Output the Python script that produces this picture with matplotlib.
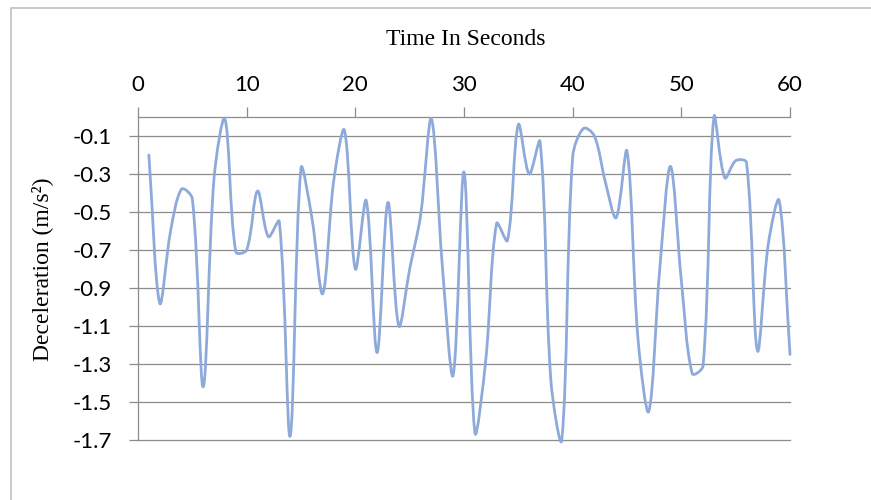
import matplotlib
matplotlib.use("Agg")
import matplotlib.pyplot as plt
from matplotlib.path import Path
from matplotlib.patches import PathPatch, Rectangle
import numpy as np

# ---- data ----
time_s = list(range(1, 61))
decel = [-0.20, -0.98, -0.60, -0.38, -0.43, -1.42, -0.32, -0.01, -0.71, -0.70,
         -0.39, -0.63, -0.55, -1.68, -0.27, -0.53, -0.93, -0.34, -0.07, -0.80,
         -0.44, -1.24, -0.45, -1.10, -0.80, -0.52, -0.01, -0.78, -1.36, -0.29,
         -1.66, -1.28, -0.56, -0.65, -0.04, -0.30, -0.13, -1.39, -1.70, -0.21,
         -0.06, -0.10, -0.34, -0.53, -0.18, -1.16, -1.55, -0.81, -0.26, -0.86,
         -1.35, -1.31, 0.00, -0.32, -0.23, -0.24, -1.23, -0.67, -0.44, -1.25]
x_ticks = [0, 10, 20, 30, 40, 50, 60]
y_ticks = [-1.7, -1.5, -1.3, -1.1, -0.9, -0.7, -0.5, -0.3, -0.1]
title_text = "Time In Seconds"
ylabel_text = "Deceleration (m/s²)"

W, H = 871, 500
fig = plt.figure(figsize=(W / 100, H / 100), dpi=100)
ax = fig.add_axes([138 / W, 1 - 440 / H, (790 - 138) / W, (440 - 117) / H])

grid_c = "#8c8c8c"
line_c = "#8eaadb"

ax.set_xlim(0, 60)
ax.set_ylim(-1.7, 0)

# smoothed line: bezier with control points scaled by neighbouring
# segment lengths measured on screen (spreadsheet-style smoothing)
P = np.column_stack([time_s, decel]).astype(float)
n = len(P)
S = ax.transData.transform(P)  # screen coords for segment lengths
d = np.hypot(*(np.diff(S, axis=0).T))  # d[i] = |S[i+1]-S[i]|
f = 1.0 / 3.0
verts = [P[0]]
codes = [Path.MOVETO]
for i in range(n - 1):
    p1, p2 = P[i], P[i + 1]
    if i > 0:
        t1 = P[i + 1] - P[i - 1]
        c1 = p1 + t1 * f * d[i] / (d[i - 1] + d[i])
    else:
        c1 = p1 + (p2 - p1) * f
    if i + 2 < n:
        t2 = P[i + 2] - P[i]
        c2 = p2 - t2 * f * d[i] / (d[i] + d[i + 1])
    else:
        c2 = p2 - (p2 - p1) * f
    verts += [c1, c2, p2]
    codes += [Path.CURVE4] * 3
path = Path(np.array(verts), codes)
patch = PathPatch(path, facecolor="none", edgecolor=line_c, lw=2.0,
                  capstyle="round", joinstyle="round", clip_on=False, zorder=3)
ax.add_patch(patch)

ax.xaxis.tick_top()
ax.set_xticks(x_ticks)
ax.set_yticks(y_ticks)
ax.set_yticklabels([f"{v:.1f}" for v in y_ticks])

for s in ["right", "bottom"]:
    ax.spines[s].set_visible(False)
for s in ["top", "left"]:
    ax.spines[s].set_color(grid_c)
    ax.spines[s].set_linewidth(0.9)

ax.yaxis.grid(True, color=grid_c, lw=0.9)
ax.set_axisbelow(True)
for gl in ax.get_ygridlines():
    gl.set_clip_on(False)

ax.tick_params(axis="x", which="major", direction="out", length=7.2, width=0.9,
               color=grid_c, pad=8.5, labelsize=16, top=True, bottom=False)
ax.tick_params(axis="y", which="major", direction="out", length=6.5, width=0.9,
               color=grid_c, pad=12, labelsize=16)
for lab in ax.get_xticklabels() + ax.get_yticklabels():
    lab.set_fontfamily("Lato")
    lab.set_color("#000000")

fig.text(466 / W, 1 - 45 / H, title_text, ha="center", va="baseline",
         family="Liberation Serif", fontsize=17)
fig.text(42 / W, 1 - 269 / H, ylabel_text, ha="center", va="center",
         rotation=90, family="Liberation Serif", fontsize=17)

# outer chart border (extends past right and bottom edges)
fig.patches.append(Rectangle((11 / W, -0.1), 1.2, 1 - 8 / H + 0.1,
                             transform=fig.transFigure, fill=False,
                             edgecolor="#c0c0c0", lw=1.2))

fig.savefig("out.png", dpi=100)
